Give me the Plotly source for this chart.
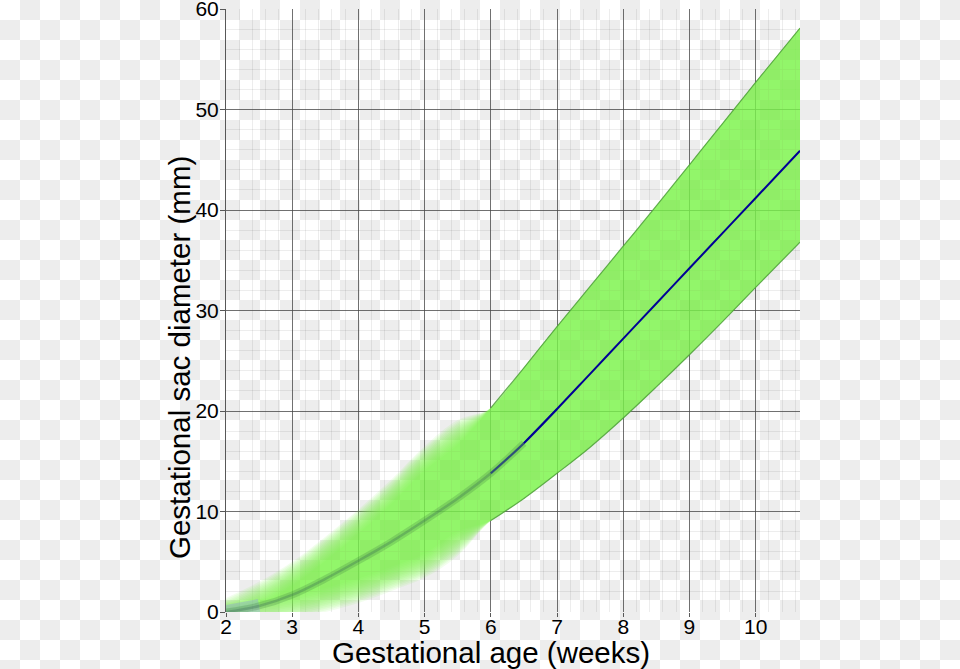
import base64
import numpy as np
import plotly.graph_objects as go

# ---- data ----
weeks = [2, 2.5, 3, 3.5, 4, 4.5, 5, 5.5, 6, 6.5, 7, 7.5, 8, 8.5, 9, 9.5, 10, 10.67]
mean_mm = [0, 0.6, 1.7, 3.3, 5.1, 7.0, 9.1, 11.3, 13.8, 16.8, 20.2, 23.7, 27.2, 30.7, 34.2, 37.7, 41.2, 45.9]
upper_mm = [0.2, 1.8, 3.8, 6.3, 9.0, 12.0, 15.3, 17.9, 20.3, 24.3, 28.4, 32.4, 36.4, 40.4, 44.5, 48.6, 52.7, 58.1]
lower_mm = [0, 0.1, 0.5, 1.2, 2.1, 3.3, 4.6, 6.8, 9.1, 11.3, 13.8, 16.4, 19.3, 22.4, 25.6, 28.9, 32.3, 36.8]
x_ticks = [2, 3, 4, 5, 6, 7, 8, 9, 10]
y_ticks = [0, 10, 20, 30, 40, 50, 60]

w = np.array(weeks)
m = np.array(mean_mm)
up = np.array(upper_mm)
lo = np.array(lower_mm)

fig = go.Figure()

# soft (blurred) band for early weeks: stacked translucent layers
blur = 1.2 * np.clip((6.0 - w) / 0.5, 0, 1)
n_layers = 16
alpha = 1 - 0.18 ** (1 / n_layers)
for d in np.linspace(-1, 1, n_layers):
    fig.add_trace(go.Scatter(x=weeks, y=list(lo - d * blur), mode="lines",
                             line=dict(width=0, shape="spline"), hoverinfo="skip",
                             showlegend=False))
    fig.add_trace(go.Scatter(x=weeks, y=list(up + d * blur), mode="lines",
                             line=dict(width=0, shape="spline"), fill="tonexty",
                             fillcolor=f"rgba(132,250,78,{alpha:.3f})",
                             hoverinfo="skip", showlegend=False))

i6 = weeks.index(6)
# crisp band edges
for arr in (up, lo):
    fig.add_trace(go.Scatter(x=weeks[i6:], y=list(arr[i6:]), mode="lines",
                             line=dict(color="rgba(80,160,60,0.85)", width=1.2, shape="spline"),
                             hoverinfo="skip", showlegend=False))

# lavender blob at the start
i25 = weeks.index(2.5)
fig.add_trace(go.Scatter(x=weeks[:i25 + 1], y=mean_mm[:i25 + 1], mode="lines",
                         line=dict(color="rgba(140,150,230,0.35)", width=14, shape="spline"),
                         hoverinfo="skip", showlegend=False))

# fuzzy early mean line
i65 = weeks.index(6.5)
fig.add_trace(go.Scatter(x=weeks[:i65 + 1], y=mean_mm[:i65 + 1], mode="lines",
                         line=dict(color="rgba(50,110,60,0.22)", width=7, shape="spline"),
                         hoverinfo="skip", showlegend=False))
fig.add_trace(go.Scatter(x=weeks[:i65 + 1], y=mean_mm[:i65 + 1], mode="lines",
                         line=dict(color="rgba(50,100,80,0.3)", width=2.5, shape="spline"),
                         hoverinfo="skip", showlegend=False))
i7 = weeks.index(7)
fig.add_trace(go.Scatter(x=weeks[i6:i7 + 1], y=mean_mm[i6:i7 + 1], mode="lines",
                         line=dict(color="rgba(0,0,150,0.55)", width=2, shape="spline"),
                         hoverinfo="skip", showlegend=False))
fig.add_trace(go.Scatter(x=weeks[i65:], y=mean_mm[i65:], mode="lines",
                         line=dict(color="rgb(0,0,150)", width=2, shape="spline"),
                         hoverinfo="skip", showlegend=False))

# checkerboard backdrop (transparent-image look)
svg = ('<svg xmlns="http://www.w3.org/2000/svg" width="960" height="669">'
       '<defs><pattern id="c" width="40" height="40" patternUnits="userSpaceOnUse">'
       '<rect width="40" height="40" fill="#ffffff"/>'
       '<rect x="20" y="0" width="20" height="20" fill="#ededed"/>'
       '<rect x="0" y="20" width="20" height="20" fill="#ededed"/>'
       '</pattern></defs><rect width="960" height="669" fill="url(#c)"/></svg>')
src = "data:image/svg+xml;base64," + base64.b64encode(svg.encode()).decode()

L, R, T, B = 226, 160, 9, 57
pw, ph = 960 - L - R, 669 - T - B
fig.add_layout_image(dict(source=src, xref="paper", yref="paper",
                          x=-L / pw, y=1 + T / ph, sizex=960 / pw, sizey=669 / ph,
                          xanchor="left", yanchor="top", sizing="stretch", layer="below"))

font = "Liberation Sans, Arial, sans-serif"
fig.update_layout(
    width=960, height=669, autosize=False,
    margin=dict(l=L, r=R, t=T, b=B, pad=0),
    paper_bgcolor="white", plot_bgcolor="rgba(0,0,0,0)",
    font=dict(family=font, color="black"),
    showlegend=False,
)
fig.add_annotation(text="Gestational age (weeks)", xref="paper", yref="paper",
                   x=(491 - L) / pw, y=(612 - 652) / ph, xanchor="center", yanchor="middle",
                   showarrow=False, font=dict(size=29.5, family=font, color="black"))
fig.add_annotation(text="Gestational sac diameter (mm)", xref="paper", yref="paper",
                   x=(180 - L) / pw, y=(612 - 358) / ph, xanchor="center", yanchor="middle",
                   textangle=-90, showarrow=False,
                   font=dict(size=29.5, family=font, color="black"))
fig.update_xaxes(range=[2, 10.67], tickvals=x_ticks, ticktext=[str(v) for v in x_ticks],
                 showgrid=True, gridcolor="rgba(70,70,70,0.75)", gridwidth=1,
                 zeroline=False, showline=False,
                 ticks="outside", ticklen=4, tickcolor="rgba(70,70,70,0.9)",
                 ticklabelstandoff=-8, ticklabeloverflow="allow",
                 tickfont=dict(size=21, family=font, color="black"),
                 minor=dict(dtick=0.2, showgrid=True, gridcolor="rgba(0,0,0,0.07)", gridwidth=1),
                 automargin=False)
fig.update_yaxes(range=[0, 60], tickvals=y_ticks, ticktext=[str(v) for v in y_ticks],
                 showgrid=True, gridcolor="rgba(70,70,70,0.75)", gridwidth=1,
                 zeroline=False, showline=True, linecolor="rgba(70,70,70,0.9)", linewidth=1,
                 ticks="outside", ticklen=5, tickcolor="rgba(70,70,70,0.9)",
                 ticklabelstandoff=-3, ticklabeloverflow="allow",
                 tickfont=dict(size=21, family=font, color="black"),
                 minor=dict(dtick=2, showgrid=True, gridcolor="rgba(0,0,0,0.07)", gridwidth=1),
                 automargin=False)

fig.write_html("out.html")
